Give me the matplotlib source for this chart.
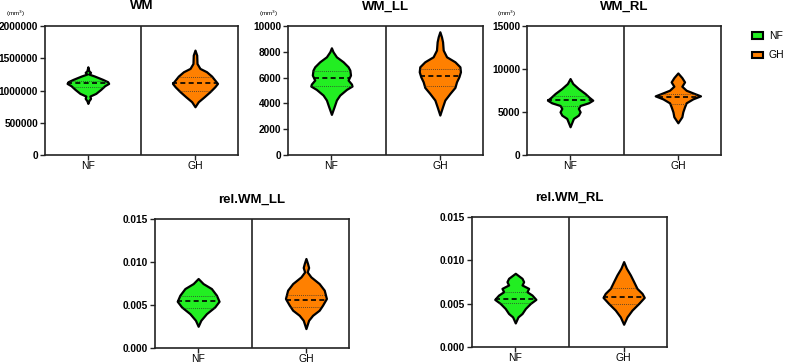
import numpy as np
import matplotlib
matplotlib.use('Agg')
import matplotlib.pyplot as plt
from matplotlib.patches import Patch

plt.rcParams['font.family'] = ['Liberation Sans', 'DejaVu Sans']

groups = ['NF', 'GH']
colors = ['#22ee22', '#ff8000']

# violin outlines: value levels and half widths (category units)
wm_nf_y = [0.801e6, 0.842e6, 0.879e6, 0.915e6, 0.956e6, 1.018e6, 1.075e6, 1.111e6, 1.137e6, 1.173e6, 1.225e6, 1.256e6, 1.282e6, 1.307e6, 1.369e6]
wm_nf_w = [0, 0.009, 0.025, 0.019, 0.074, 0.12, 0.157, 0.194, 0.185, 0.139, 0.062, 0.009, 0.025, 0.009, 0]
wm_gh_y = [0.749e6, 0.827e6, 0.904e6, 0.982e6, 1.059e6, 1.111e6, 1.163e6, 1.225e6, 1.292e6, 1.344e6, 1.42e6, 1.55e6, 1.628e6]
wm_gh_w = [0, 0.031, 0.086, 0.139, 0.185, 0.21, 0.185, 0.155, 0.108, 0.046, 0.019, 0.016, 0]

ll_nf_y = [3152, 3747, 4264, 4651, 5090, 5349, 5504, 5814, 6202, 6589, 6845, 7233, 7620, 8008, 8318]
ll_nf_w = [0, 0.025, 0.046, 0.077, 0.139, 0.19, 0.185, 0.154, 0.176, 0.17, 0.154, 0.108, 0.046, 0.015, 0]
ll_gh_y = [3100, 3747, 4264, 4780, 5245, 5685, 6070, 6457, 6845, 7233, 7620, 8140, 8786, 9173, 9561]
ll_gh_w = [0, 0.025, 0.046, 0.093, 0.139, 0.154, 0.176, 0.19, 0.185, 0.139, 0.062, 0.031, 0.025, 0.015, 0]

rl_nf_y = [3287, 4257, 4640, 5023, 5418, 5766, 6071, 6381, 6694, 7158, 7738, 8318, 8898]
rl_nf_w = [0, 0.031, 0.077, 0.093, 0.077, 0.093, 0.17, 0.21, 0.179, 0.139, 0.077, 0.025, 0]
rl_gh_y = [3750, 4447, 5027, 5607, 6071, 6535, 6883, 7155, 7540, 8004, 8507, 9010, 9548]
rl_gh_w = [0, 0.037, 0.046, 0.062, 0.077, 0.139, 0.21, 0.154, 0.077, 0.037, 0.062, 0.037, 0]

rll_nf_y = [0.00253, 0.00323, 0.0040, 0.00478, 0.00544, 0.00614, 0.00692, 0.0075, 0.00809]
rll_nf_w = [0, 0.025, 0.077, 0.154, 0.194, 0.17, 0.123, 0.046, 0]
rll_gh_y = [0.00226, 0.00323, 0.00381, 0.0044, 0.00498, 0.00576, 0.00673, 0.0075, 0.00828, 0.00886, 0.00937, 0.00984, 0.01042]
rll_gh_w = [0, 0.025, 0.062, 0.123, 0.154, 0.19, 0.17, 0.123, 0.046, 0.012, 0.025, 0.015, 0]

rrl_nf_y = [0.00278, 0.00348, 0.00387, 0.00445, 0.00503, 0.0055, 0.006, 0.00638, 0.00677, 0.00716, 0.00754, 0.00793, 0.00851]
rrl_nf_w = [0, 0.025, 0.062, 0.093, 0.139, 0.19, 0.154, 0.108, 0.123, 0.062, 0.077, 0.062, 0]
rrl_gh_y = [0.00263, 0.00348, 0.00426, 0.00503, 0.00573, 0.00619, 0.00677, 0.00754, 0.00832, 0.0091, 0.00986]
rrl_gh_w = [0, 0.031, 0.077, 0.139, 0.19, 0.17, 0.123, 0.093, 0.062, 0.025, 0]

# median, lower quartile, upper quartile
wm_stats = [(1.111e6, 1.05e6, 1.15e6), (1.111e6, 1.0e6, 1.21e6)]
ll_stats = [(5943, 5375, 6537), (6150, 5375, 6700)]
rl_stats = [(6381, 5690, 6880), (6768, 5890, 7080)]
rll_stats = [(0.00544, 0.0047, 0.0061), (0.00556, 0.0048, 0.0062)]
rrl_stats = [(0.00557, 0.0051, 0.0064), (0.00573, 0.0050, 0.0068)]

# title, rect, ymax, yticks, format, shapes, stats, unit label offset (points, None = no label)
panels = [
    ('WM', [0.0572, 0.573, 0.245, 0.355], 2000000, [0, 500000, 1000000, 1500000, 2000000], '%d',
     [(wm_nf_y, wm_nf_w), (wm_gh_y, wm_gh_w)], wm_stats, -21),
    ('WM_LL', [0.366, 0.573, 0.248, 0.355], 10000, [0, 2000, 4000, 6000, 8000, 10000], '%d',
     [(ll_nf_y, ll_nf_w), (ll_gh_y, ll_gh_w)], ll_stats, -14),
    ('WM_RL', [0.6696, 0.573, 0.2465, 0.355], 15000, [0, 5000, 10000, 15000], '%d',
     [(rl_nf_y, rl_nf_w), (rl_gh_y, rl_gh_w)], rl_stats, -15),
    ('rel.WM_LL', [0.197, 0.0413, 0.2465, 0.355], 0.015, [0, 0.005, 0.010, 0.015], '%.3f',
     [(rll_nf_y, rll_nf_w), (rll_gh_y, rll_gh_w)], rll_stats, None),
    ('rel.WM_RL', [0.5997, 0.044, 0.2478, 0.358], 0.015, [0, 0.005, 0.010, 0.015], '%.3f',
     [(rrl_nf_y, rrl_nf_w), (rrl_gh_y, rrl_gh_w)], rrl_stats, None),
]

fig = plt.figure(figsize=(7.87, 3.63), dpi=100)
edge = '#222222'

for title, rect, ymax, yticks, fmt, shapes, stats, unit in panels:
    ax = fig.add_axes(rect)
    for i, ((ys, ws), (med, q1, q3)) in enumerate(zip(shapes, stats)):
        ys = np.array(ys)
        ws = np.array(ws)
        ax.fill_betweenx(ys, i - ws, i + ws, facecolor=colors[i], edgecolor='black',
                         linewidth=1.6, joinstyle='round', zorder=3)
        hw = np.interp(med, ys, ws)
        ax.plot([i - hw, i + hw], [med, med], color='black', lw=1.2, ls=(0, (3, 2)), zorder=4)
        for q in (q1, q3):
            hq = np.interp(q, ys, ws)
            ax.plot([i - hq, i + hq], [q, q], color='#333333', lw=0.6, ls=(0, (1, 1.5)), zorder=4)
    ax.axvline(0.5, color=edge, lw=1.2)
    ax.set_xlim(-0.4, 1.4)
    ax.set_ylim(0, ymax)
    ax.set_yticks(yticks)
    ax.set_yticklabels([fmt % t for t in yticks], fontsize=7.3, fontweight='bold')
    ax.set_xticks([0, 1])
    ax.set_xticklabels(groups, fontsize=7.5)
    for s in ax.spines.values():
        s.set_color(edge)
        s.set_linewidth(1.2)
    ax.tick_params(axis='y', direction='out', length=3.5, width=1.0, color=edge, pad=1.5)
    ax.tick_params(axis='x', direction='out', length=3.5, width=1.0, color=edge, pad=1.0)
    ax.set_title(title, fontsize=9.5, fontweight='bold', pad=12)
    if unit is not None:
        ax.annotate('(mm$^3$)', xy=(0, 1), xycoords='axes fraction', xytext=(unit, 5),
                    textcoords='offset points', fontsize=4.5, ha='center', va='bottom')

handles = [Patch(facecolor=colors[i], edgecolor='black', linewidth=1.5, label=groups[i]) for i in range(2)]
fig.legend(handles=handles, loc='upper left', bbox_to_anchor=(0.953, 0.92), frameon=False,
           fontsize=7.5, handlelength=1.0, handleheight=0.6, handletextpad=0.6, labelspacing=0.9,
           borderaxespad=0, borderpad=0.2)

fig.savefig('out.png', dpi=100)
